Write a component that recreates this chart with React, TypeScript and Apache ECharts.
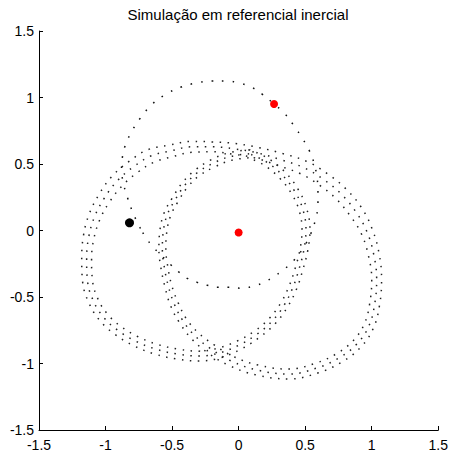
import React, { useEffect, useRef } from 'react';
import * as echarts from 'echarts';

const TITLE = 'Simulação em referencial inercial';
const AXIS_MIN = -1.5;
const AXIS_MAX = 1.5;
const AXIS_STEP = 0.5;

// Precessing trajectory: three consecutive laps (outer, middle, inner tracks)
const lapOuter: number[][] = [
  [0.083, 0.607], [-0.078, 0.583], [-0.212, 0.529], [-0.327, 0.455], [-0.421, 0.361], [-0.498, 0.245],
  [-0.561, 0.129], [-0.592, -0.003], [-0.599, -0.143], [-0.584, -0.281], [-0.553, -0.426], [-0.511, -0.566],
  [-0.441, -0.698], [-0.35, -0.818], [-0.228, -0.922], [-0.072, -1.015], [0.131, -1.086], [0.379, -1.116],
  [0.599, -1.07], [0.772, -0.991], [0.916, -0.879], [1.012, -0.735], [1.059, -0.56], [1.074, -0.366],
  [1.055, -0.172], [1.004, 0.01], [0.923, 0.172], [0.805, 0.314], [0.67, 0.425], [0.513, 0.519],
  [0.333, 0.578], [0.15, 0.624], [-0.026, 0.654], [-0.197, 0.666], [-0.36, 0.67], [-0.519, 0.642],
  [-0.678, 0.609], [-0.821, 0.521], [-0.948, 0.411], [-1.048, 0.273], [-1.124, 0.121], [-1.167, -0.045],
  [-1.179, -0.216], [-1.172, -0.388], [-1.124, -0.547], [-1.044, -0.676], [-0.932, -0.779], [-0.791, -0.865],
  [-0.636, -0.927], [-0.467, -0.966], [-0.295, -0.981], [-0.136, -0.957], [0.019, -0.891], [0.157, -0.803],
  [0.273, -0.702], [0.366, -0.578], [0.436, -0.438], [0.481, -0.3], [0.52, -0.147], [0.536, 0.008],
  [0.511, 0.165], [0.448, 0.308], [0.348, 0.44], [0.222, 0.542],
];

const lapMiddle: number[][] = [
  [0.079, 0.577], [-0.071, 0.554], [-0.199, 0.502], [-0.311, 0.434], [-0.401, 0.345], [-0.476, 0.232],
  [-0.536, 0.12], [-0.566, -0.007], [-0.573, -0.142], [-0.558, -0.277], [-0.528, -0.419], [-0.483, -0.554],
  [-0.416, -0.682], [-0.326, -0.794], [-0.206, -0.891], [-0.056, -0.981], [0.139, -1.049], [0.378, -1.079],
  [0.588, -1.034], [0.753, -0.959], [0.888, -0.854], [0.978, -0.719], [1.022, -0.554], [1.037, -0.367],
  [1.015, -0.18], [0.963, -0.007], [0.88, 0.142], [0.768, 0.277], [0.64, 0.382], [0.491, 0.472],
  [0.318, 0.532], [0.139, 0.584], [-0.034, 0.614], [-0.199, 0.629], [-0.356, 0.629], [-0.506, 0.599],
  [-0.655, 0.562], [-0.79, 0.479], [-0.91, 0.375], [-1.007, 0.247], [-1.082, 0.105], [-1.127, -0.052],
  [-1.142, -0.217], [-1.135, -0.382], [-1.09, -0.532], [-1.015, -0.652], [-0.91, -0.749], [-0.775, -0.831],
  [-0.625, -0.891], [-0.461, -0.929], [-0.296, -0.944], [-0.146, -0.921], [0.004, -0.861], [0.139, -0.779],
  [0.251, -0.682], [0.341, -0.562], [0.408, -0.427], [0.453, -0.292], [0.491, -0.142], [0.506, 0.007],
  [0.483, 0.157], [0.423, 0.292], [0.326, 0.419], [0.206, 0.517],
];

const lapInner: number[][] = [
  [0.075, 0.547], [-0.064, 0.525], [-0.186, 0.475], [-0.295, 0.413], [-0.381, 0.329], [-0.454, 0.219],
  [-0.511, 0.111], [-0.54, -0.011], [-0.547, -0.141], [-0.532, -0.273], [-0.503, -0.412], [-0.455, -0.542],
  [-0.391, -0.666], [-0.302, -0.77], [-0.184, -0.86], [-0.04, -0.947], [0.147, -1.012], [0.377, -1.042],
  [0.577, -0.998], [0.734, -0.927], [0.86, -0.829], [0.944, -0.703], [0.985, -0.548], [1.0, -0.368],
  [0.975, -0.188], [0.922, -0.024], [0.837, 0.112], [0.731, 0.24], [0.61, 0.339], [0.469, 0.425],
  [0.303, 0.486], [0.128, 0.544], [-0.042, 0.574], [-0.201, 0.592], [-0.352, 0.588], [-0.493, 0.556],
  [-0.632, 0.515], [-0.759, 0.437], [-0.872, 0.339], [-0.966, 0.221], [-1.04, 0.089], [-1.087, -0.059],
  [-1.105, -0.218], [-1.098, -0.376], [-1.056, -0.517], [-0.986, -0.628], [-0.888, -0.719], [-0.759, -0.797],
  [-0.614, -0.855], [-0.455, -0.892], [-0.297, -0.907], [-0.156, -0.885], [-0.011, -0.831], [0.121, -0.755],
  [0.229, -0.662], [0.316, -0.546], [0.38, -0.416], [0.425, -0.284], [0.462, -0.137], [0.476, 0.006],
  [0.455, 0.149], [0.398, 0.276], [0.304, 0.398], [0.19, 0.492],
];

// Single-lap orbit through the outer red body
const singleOrbit: number[][] = [
  [-0.738, 0.015], [-0.768, 0.075], [-0.798, 0.142], [-0.835, 0.247], [-0.865, 0.352], [-0.88, 0.457],
  [-0.873, 0.554], [-0.85, 0.644], [-0.805, 0.742], [-0.738, 0.846], [-0.648, 0.951], [-0.543, 1.026],
  [-0.431, 1.079], [-0.318, 1.109], [-0.206, 1.124], [-0.094, 1.124], [0.004, 1.109], [0.094, 1.079],
  [0.176, 1.026], [0.266, 0.951], [0.341, 0.884], [0.416, 0.787], [0.476, 0.697], [0.528, 0.607],
  [0.566, 0.509], [0.588, 0.404], [0.596, 0.3], [0.596, 0.195], [0.581, 0.097], [0.543, -0.022],
  [0.483, -0.135], [0.408, -0.232], [0.341, -0.292], [0.266, -0.345], [0.191, -0.39], [0.109, -0.419],
  [0.019, -0.434], [-0.071, -0.427], [-0.154, -0.427], [-0.236, -0.412], [-0.311, -0.39], [-0.386, -0.36],
  [-0.446, -0.315], [-0.513, -0.255], [-0.581, -0.187], [-0.64, -0.127], [-0.693, -0.06],
];

const redBodies: number[][] = [[0.266, 0.951], [0.0, -0.015]];
const blackBody: number[][] = [[-0.82, 0.058]];

const FONT = '"Liberation Sans", Arial, Helvetica, sans-serif';

function closed(pts: number[][]) {
  return [...pts, pts[0]];
}

export default function App() {
  const ref = useRef<HTMLDivElement>(null);

  useEffect(() => {
    if (!ref.current) return;
    const chart = echarts.init(ref.current, undefined, { renderer: 'svg' });

    const dotted = (data: number[][], dash: number, gap: number, color: string) => ({
      type: 'line',
      data,
      showSymbol: false,
      symbol: 'none',
      smooth: 0.4,
      silent: true,
      lineStyle: { color, width: 1.5, type: [dash, gap] },
      z: 2,
    });

    const axisCommon = {
      type: 'value',
      min: AXIS_MIN,
      max: AXIS_MAX,
      interval: AXIS_STEP,
      axisLine: { show: true, onZero: false, lineStyle: { color: '#000', width: 1 } },
      axisTick: { show: true, inside: true, length: 4, lineStyle: { color: '#000', width: 1 } },
      splitLine: { show: false },
      axisLabel: { color: '#000', fontSize: 14, fontFamily: FONT },
    };

    chart.setOption({
      animation: false,
      backgroundColor: '#fff',
      grid: { left: 39, top: 31, width: 401, height: 400, containLabel: false },
      xAxis: { ...axisCommon, axisLabel: { ...axisCommon.axisLabel, margin: 8 } },
      yAxis: { ...axisCommon, axisLabel: { ...axisCommon.axisLabel, margin: 5, padding: [5, 0, 0, 0] } },
      graphic: [
        {
          type: 'text',
          x: 238,
          y: 14,
          style: {
            text: TITLE,
            font: `15px ${FONT}`,
            fill: '#000',
            textAlign: 'center',
            textVerticalAlign: 'middle',
          },
        },
      ],
      series: [
        dotted(closed(lapOuter), 1.5, 6.5, '#222'),
        dotted(closed(lapMiddle), 1.5, 6.5, '#222'),
        dotted(closed(lapInner), 1.5, 6.5, '#222'),
        dotted(closed(singleOrbit), 1.6, 9, '#111'),
        {
          type: 'scatter',
          data: redBodies,
          symbol: 'circle',
          symbolSize: 8,
          itemStyle: { color: '#ff0000', opacity: 1 },
          z: 5,
          silent: true,
        },
        {
          type: 'scatter',
          data: blackBody,
          symbol: 'circle',
          symbolSize: 9,
          itemStyle: { color: '#000', opacity: 1 },
          z: 5,
          silent: true,
        },
      ],
    });

    return () => chart.dispose();
  }, []);

  return (
    <div
      ref={ref}
      style={{ position: 'fixed', left: 0, top: 0, width: 451, height: 452, background: '#fff' }}
    />
  );
}
